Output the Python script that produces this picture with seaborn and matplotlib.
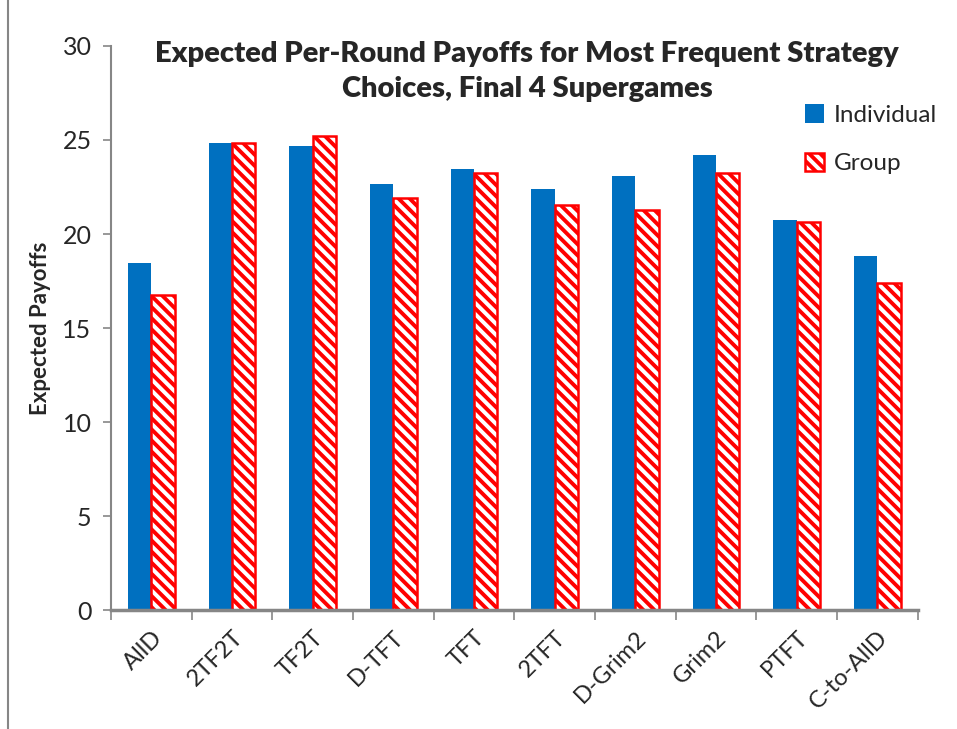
import matplotlib
matplotlib.use("Agg")
import matplotlib.pyplot as plt
import pandas as pd
import seaborn as sns
from matplotlib.lines import Line2D

# values
strategies = ["AllD", "2TF2T", "TF2T", "D-TFT", "TFT", "2TFT", "D-Grim2", "Grim2", "PTFT", "C-to-AllD"]
individual = [18.46, 24.86, 24.70, 22.65, 23.44, 22.40, 23.10, 24.18, 20.76, 18.82]
group = [16.74, 24.86, 25.20, 21.91, 23.23, 21.55, 21.28, 23.23, 20.66, 17.38]
series_names = ["Individual", "Group"]
y_ticks = [0, 5, 10, 15, 20, 25, 30]

BLUE = "#0070C0"
RED = "#FF0000"
GRAY = "#868686"

sns.set_style("white")
plt.rcParams["font.family"] = ["Lato", "DejaVu Sans"]
plt.rcParams["hatch.linewidth"] = 2.8

df = pd.DataFrame({
    "strategy": strategies * 2,
    "payoff": individual + group,
    "kind": [series_names[0]] * len(strategies) + [series_names[1]] * len(strategies),
})

fig = plt.figure(figsize=(9.57, 7.29), dpi=100)
ax = fig.add_axes([0.116, 0.163, 0.843, 0.774])

sns.barplot(data=df, x="strategy", y="payoff", hue="kind", order=strategies,
            hue_order=series_names, palette=[BLUE, "white"], width=0.58, gap=0,
            saturation=1, legend=False, ax=ax)

for p in ax.containers[0]:
    p.set_edgecolor(BLUE)
    p.set_linewidth(0)
for p in ax.containers[1]:
    p.set_facecolor("white")
    p.set_edgecolor(RED)
    p.set_hatch("\\\\\\")
    p.set_linewidth(1.8)

ax.set_ylim(0, 30)
ax.set_xlim(-0.5, len(strategies) - 0.5)
ax.set_yticks(y_ticks)
ax.set_yticklabels([str(t) for t in y_ticks], fontsize=18)
ax.set_xticks(range(len(strategies)))
ax.set_xticklabels(strategies, rotation=45, ha="right", rotation_mode="anchor", fontsize=17)
ax.set_xticks([i - 0.5 for i in range(len(strategies) + 1)], minor=True)
ax.tick_params(axis="x", which="major", length=0, pad=12)
ax.tick_params(axis="x", which="minor", length=7, width=1.2, color=GRAY, direction="out", bottom=True)
ax.tick_params(axis="y", length=6, width=1.2, color=GRAY, direction="out", left=True, pad=8)

ax.set_xlabel("")
ax.set_ylabel("Expected Payoffs", fontsize=16, fontweight="bold", labelpad=8)

for side in ["top", "right"]:
    ax.spines[side].set_visible(False)
ax.spines["left"].set_color(GRAY)
ax.spines["left"].set_linewidth(1.5)
ax.spines["bottom"].set_color(GRAY)
ax.spines["bottom"].set_linewidth(2.5)

fig.text(0.551, 0.902, "Expected Per-Round Payoffs for Most Frequent Strategy\nChoices, Final 4 Supergames",
         ha="center", va="center", multialignment="center", fontsize=21, fontweight="heavy",
         linespacing=1.42)

ax.legend(handles=list(ax.containers), labels=series_names, loc="upper left",
          bbox_to_anchor=(0.841, 0.857), bbox_transform=fig.transFigure, frameon=False,
          fontsize=17.5, handlelength=0.8, handleheight=0.8, handletextpad=0.4,
          labelspacing=1.1, borderpad=0, borderaxespad=0)

fig.add_artist(Line2D([0.008, 0.008], [0, 1], color=GRAY, linewidth=1.5))

fig.savefig("out.png", dpi=100)
